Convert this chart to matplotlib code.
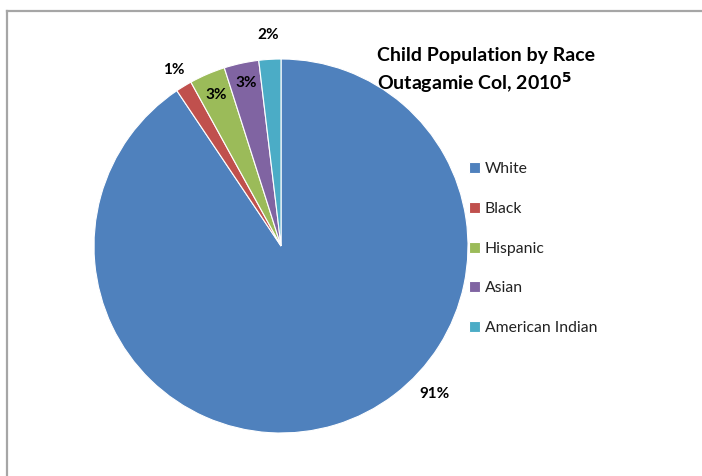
import matplotlib
matplotlib.use("Agg")
import matplotlib.pyplot as plt
from matplotlib.lines import Line2D
import numpy as np

categories = ["White", "Black", "Hispanic", "Asian", "American Indian"]
values = [90.6, 1.4, 3.1, 3.0, 1.9]
pct_labels = ["91%", "1%", "3%", "3%", "2%"]
colors = ["#4F81BD", "#C0504D", "#9BBB59", "#8064A2", "#4BACC6"]
title_line1 = "Child Population by Race"
title_line2 = "Outagamie Col, 2010"

W, H = 702, 476
fig = plt.figure(figsize=(W / 100, H / 100), dpi=100)
fig.patch.set_facecolor("white")

font = ["Lato", "DejaVu Sans"]

cx, cy, R = 281, 246, 187
ax = fig.add_axes([(cx - R) / W, (H - cy - R) / H, 2 * R / W, 2 * R / H])
wedges, _ = ax.pie(values, colors=colors, startangle=90, counterclock=False,
                   radius=1.0, wedgeprops=dict(edgecolor="white", linewidth=0.8))
ax.set_xlim(-1, 1)
ax.set_ylim(-1, 1)
ax.set_aspect("equal")
ax.axis("off")

# label placement: radius factor per wedge (White handled with custom angle)
label_r = [1.14, 1.10, 0.88, 0.89, 1.13]
for i, (w, lab) in enumerate(zip(wedges, pct_labels)):
    if i == 0:
        ang = np.deg2rad(-43.9)
    else:
        ang = np.deg2rad((w.theta1 + w.theta2) / 2)
    r = label_r[i]
    ax.text(r * np.cos(ang), r * np.sin(ang), lab, ha="center", va="center",
            fontsize=11, fontweight="bold", family=font, clip_on=False,
            color="#000000")

# Title
fig.text(377 / W, 1 - 56 / H, title_line1, ha="left", va="center",
         fontsize=14, fontweight="bold", family=font)
fig.text(377 / W, 1 - 83 / H, title_line2 + r"$^{\mathbf{5}}$", ha="left", va="center",
         fontsize=14, fontweight="bold", family=font)

# Legend
leg = fig.legend(wedges, categories, loc="upper left",
                 bbox_to_anchor=(455 / W, 1 - 148 / H), frameon=False,
                 handlelength=0.7, handleheight=0.7, handletextpad=0.3,
                 labelspacing=1.64, prop=dict(family=font, size=11.3))
for t in leg.get_texts():
    t.set_color("#222222")

# Border lines
border_col = "#A6A6A6"
fig.add_artist(Line2D([6.5 / W, 6.5 / W], [0, 1 - 10.5 / H], color=border_col,
                      linewidth=1.6, transform=fig.transFigure))
fig.add_artist(Line2D([6.5 / W, 1], [1 - 10.5 / H, 1 - 10.5 / H], color=border_col,
                      linewidth=1.6, transform=fig.transFigure))

fig.savefig("out.png", dpi=100, facecolor="white")
